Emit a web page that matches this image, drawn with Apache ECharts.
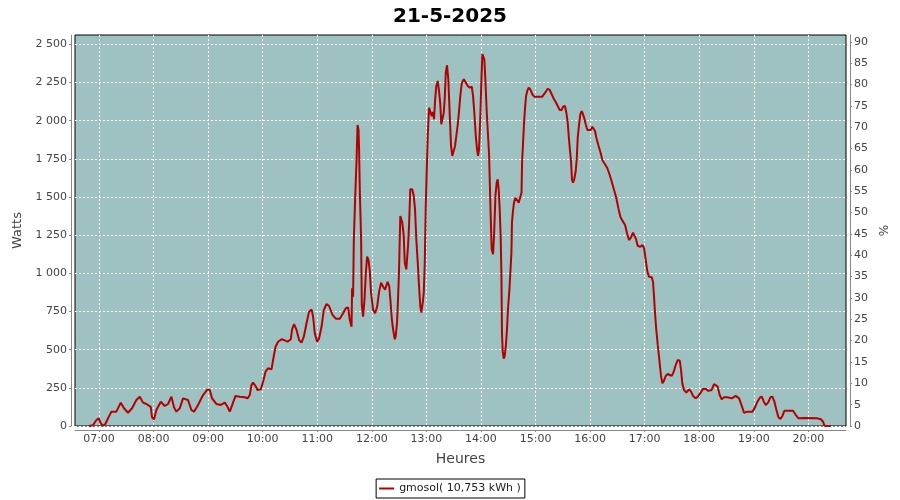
<!DOCTYPE html>
<html><head><meta charset="utf-8">
<script src="https://cdn.jsdelivr.net/npm/echarts@6/dist/echarts.min.js"></script>
<style>html,body{margin:0;padding:0;background:#fff}#c{width:900px;height:500px}</style>
</head><body><div id="c"></div><script>
const chartTitle = '21-5-2025';
const seriesName = 'gmosol( 10,753 kWh )';
const xName = 'Heures';
const yLeftName = 'Watts';
const yRightName = '%';
const hourTicks = [420,480,540,600,660,720,780,840,900,960,1020,1080,1140,1200];
const wattTicks = [0,250,500,750,1000,1250,1500,1750,2000,2250,2500];
const pctTicks = [0,5,10,15,20,25,30,35,40,45,50,55,60,65,70,75,80,85,90];
// time of day in minutes since midnight
const times = [408.7,413.4,417.1,419.7,421.9,424.4,427.0,429.9,433.6,439.1,443.9,447.5,451.9,456.3,461.1,464.8,468.4,472.1,473.9,476.9,478.3,480.5,483.1,487.9,492.3,495.9,499.6,502.5,505.1,508.8,512.4,514.3,517.9,521.6,524.5,528.9,534.4,539.3,541.8,544.3,549.2,553.9,558.3,561.3,563.8,567.4,570.1,574.8,580.3,583.3,585.8,587.7,589.4,592.1,594.3,597.9,600.4,603.1,605.9,609.7,611.4,614.1,616.9,620.7,623.5,627.3,630.9,632.3,634.5,637.2,640.0,642.7,645.2,648.2,651.0,653.7,655.4,657.3,659.8,662.0,664.7,667.2,670.2,673.0,676.8,680.4,684.8,688.4,691.4,693.9,695.8,697.7,698.3,699.4,700.2,701.6,703.2,704.3,705.4,706.0,706.8,708.2,709.0,710.4,711.9,713.4,714.8,716.4,717.8,719.2,721.4,723.6,725.8,728.0,730.2,732.4,734.6,737.3,739.1,740.5,742.0,743.4,745.2,746.3,747.7,748.8,749.9,751.3,752.4,753.5,755.1,756.2,757.9,759.8,760.9,762.3,764.5,766.1,767.5,768.9,770.5,771.9,773.3,774.4,776.0,777.1,778.2,779.3,780.4,781.5,782.9,784.3,785.9,787.3,788.4,789.5,790.9,792.5,793.9,795.3,796.4,797.5,799.1,800.2,801.3,802.7,804.1,805.7,807.1,808.5,810.1,811.5,812.9,814.5,815.9,817.3,818.9,821.1,823.3,825.5,827.7,829.9,831.3,832.7,834.3,835.7,836.8,837.9,839.3,840.4,841.5,842.6,843.7,844.8,846.4,847.8,848.9,850.7,851.8,853.3,854.4,855.9,857.3,858.4,859.5,860.6,861.7,862.5,863.1,863.9,865.0,866.1,867.5,868.6,869.7,871.3,872.4,873.5,874.1,875.2,876.3,877.9,879.3,881.5,883.4,884.6,885.2,886.3,887.4,888.5,889.6,891.2,892.6,894.5,896.4,898.6,901.9,903.8,907.4,909.3,911.2,913.4,915.6,917.8,920.0,922.2,924.4,926.6,928.8,930.2,932.4,933.9,935.4,936.5,937.6,939.0,940.1,941.2,942.6,944.2,945.3,946.4,947.8,949.3,950.8,952.2,953.7,955.2,957.0,958.8,960.7,962.5,964.4,965.4,966.9,969.1,971.7,973.4,976.4,979.0,981.6,983.8,986.4,988.9,991.1,993.3,995.5,998.5,1000.6,1002.8,1005.0,1007.2,1008.7,1010.2,1012.4,1015.3,1017.5,1019.4,1021.2,1023.0,1024.8,1027.8,1029.2,1030.3,1031.4,1032.8,1034.4,1035.8,1036.9,1038.0,1039.5,1041.3,1043.2,1045.4,1047.6,1049.8,1052.0,1054.2,1056.4,1058.6,1060.0,1061.4,1063.3,1065.8,1068.8,1071.0,1073.2,1076.2,1079.0,1081.6,1084.2,1087.1,1090.0,1093.7,1096.3,1098.1,1100.3,1102.5,1104.7,1107.3,1110.9,1115.8,1120.2,1123.8,1126.4,1129.3,1133.0,1134.8,1138.5,1141.4,1144.0,1146.6,1148.8,1151.0,1153.2,1155.7,1158.3,1160.5,1162.7,1164.9,1167.1,1169.3,1171.5,1173.7,1183.2,1186.2,1189.1,1196.4,1210.0,1213.7,1216.2,1217.7,1224.6];
const watts = [0,5,39,50,18,2,13,50,94,94,153,116,87,116,170,192,153,144,153,125,57,44,105,159,131,144,192,122,94,116,181,192,170,105,94,138,203,240,236,181,144,138,153,126,94,153,197,192,188,181,203,269,284,262,236,240,290,356,378,371,432,519,552,568,563,552,568,633,668,629,563,546,585,673,749,764,716,607,552,574,650,760,799,786,727,703,703,738,771,777,694,650,902,847,1218,1480,1742,1972,1939,1808,1535,1229,793,716,825,1000,1109,1087,1011,869,760,738,781,880,939,912,893,944,917,819,699,633,568,590,677,830,1015,1376,1364,1332,1245,1070,1026,1179,1310,1550,1550,1507,1419,1223,1070,917,786,742,808,873,1070,1441,1681,1900,2085,2096,2030,2057,2009,2129,2227,2260,2194,2107,1976,1965,2052,2150,2314,2363,2271,2030,1834,1769,1757,1834,1900,1976,2063,2162,2245,2271,2249,2227,2216,2222,2162,2052,1900,1812,1769,1812,2030,2249,2435,2445,2402,2271,2052,1900,1780,1376,1157,1125,1245,1507,1594,1616,1550,1419,1233,994,611,491,441,458,535,633,764,895,1015,1135,1332,1408,1463,1495,1495,1463,1474,1528,1725,1856,1987,2085,2162,2201,2216,2201,2173,2157,2157,2162,2157,2162,2188,2209,2201,2173,2144,2122,2096,2070,2070,2091,2096,2052,1987,1900,1823,1736,1616,1594,1616,1670,1747,1888,1970,2042,2063,2042,2013,1976,1939,1926,1939,1960,1970,1932,1888,1839,1786,1742,1714,1688,1644,1600,1546,1491,1426,1371,1345,1317,1262,1218,1236,1266,1262,1229,1179,1174,1186,1164,1087,1011,978,974,945,847,738,629,531,454,388,328,280,297,328,341,334,328,356,400,432,428,367,280,236,218,240,225,197,181,197,218,243,243,230,236,275,284,258,203,175,188,188,181,197,181,138,87,94,98,94,122,159,185,192,159,138,153,188,192,159,105,57,46,66,100,100,72,50,53,50,44,28,2,0];

const fam = 'DejaVu Sans';
const axisGrey = '#888888';
const labelColor = '#444444';
function hhmm(v){const h=Math.floor(v/60), m=Math.round(v-h*60);return String(h).padStart(2,'0')+':'+String(m).padStart(2,'0');}
function fmtW(v){v=Math.round(v);if(v>=1000){return Math.floor(v/1000)+' '+String(v%1000).padStart(3,'0');}return String(v);}
const data = times.map((t,i)=>[t,watts[i]]);

const chart = echarts.init(document.getElementById('c'), null, {renderer:'canvas'});
chart.setOption({
  animation: false,
  backgroundColor: '#ffffff',
  title: { text: chartTitle, left: 'center', top: 2, textStyle: { fontFamily: fam, fontSize: 20, fontWeight: 'bold', color: '#000' } },
  legend: { bottom: 2, left: 'center', data: [seriesName], icon: 'rect', itemWidth: 15, itemHeight: 2, itemGap: 5,
    borderColor: '#000', borderWidth: 1, padding: [4,4,4,3], textStyle: { fontFamily: fam, fontSize: 11, color: '#222' } },
  grid: { left: 75, right: 54, top: 35, bottom: 74, show: true, backgroundColor: '#9ec2c1', borderColor: '#000', borderWidth: 1 },
  xAxis: { type: 'value', min: 393.6, max: 1241.4, offset: 4,
    name: xName, nameLocation: 'middle', nameGap: 22, nameTextStyle: { fontFamily: fam, fontSize: 14, color: labelColor },
    axisLine: { onZero: false, lineStyle: { color: axisGrey } },
    axisTick: { customValues: hourTicks, length: 2, lineStyle: { color: axisGrey } },
    axisLabel: { customValues: hourTicks, formatter: hhmm, margin: 4, color: labelColor, fontSize: 11, fontFamily: fam },
    splitLine: { show: true, lineStyle: { color: '#ffffff', type: [2,2], width: 1 } } },
  yAxis: [
    { type: 'value', position: 'left', min: 0, max: 2561, offset: 4,
      name: yLeftName, nameLocation: 'middle', nameGap: 43, nameTextStyle: { fontFamily: fam, fontSize: 13, color: labelColor },
      axisLine: { show: true, onZero: false, lineStyle: { color: axisGrey } },
      axisTick: { show: true, customValues: wattTicks, length: 2, lineStyle: { color: axisGrey } },
      axisLabel: { customValues: wattTicks, formatter: fmtW, margin: 4, color: labelColor, fontSize: 11, fontFamily: fam },
      splitLine: { show: true, lineStyle: { color: '#ffffff', type: [2,2], width: 1 } } },
    { type: 'value', position: 'right', min: 0, max: 91.6, offset: 4,
      name: yRightName, nameLocation: 'middle', nameGap: 22, nameRotate: 90, nameTextStyle: { fontFamily: fam, fontSize: 12, color: labelColor },
      axisLine: { show: true, onZero: false, lineStyle: { color: axisGrey } },
      axisTick: { show: true, customValues: pctTicks, length: 2, lineStyle: { color: axisGrey } },
      axisLabel: { customValues: pctTicks, margin: 4, color: labelColor, fontSize: 11, fontFamily: fam },
      splitLine: { show: false } }
  ],
  series: [{ name: seriesName, type: 'line', xAxisIndex: 0, yAxisIndex: 0, data: data, showSymbol: false, symbol: 'none',
    lineStyle: { color: '#b40000', width: 2 }, itemStyle: { color: '#b40000' } }]
});
</script></body></html>
